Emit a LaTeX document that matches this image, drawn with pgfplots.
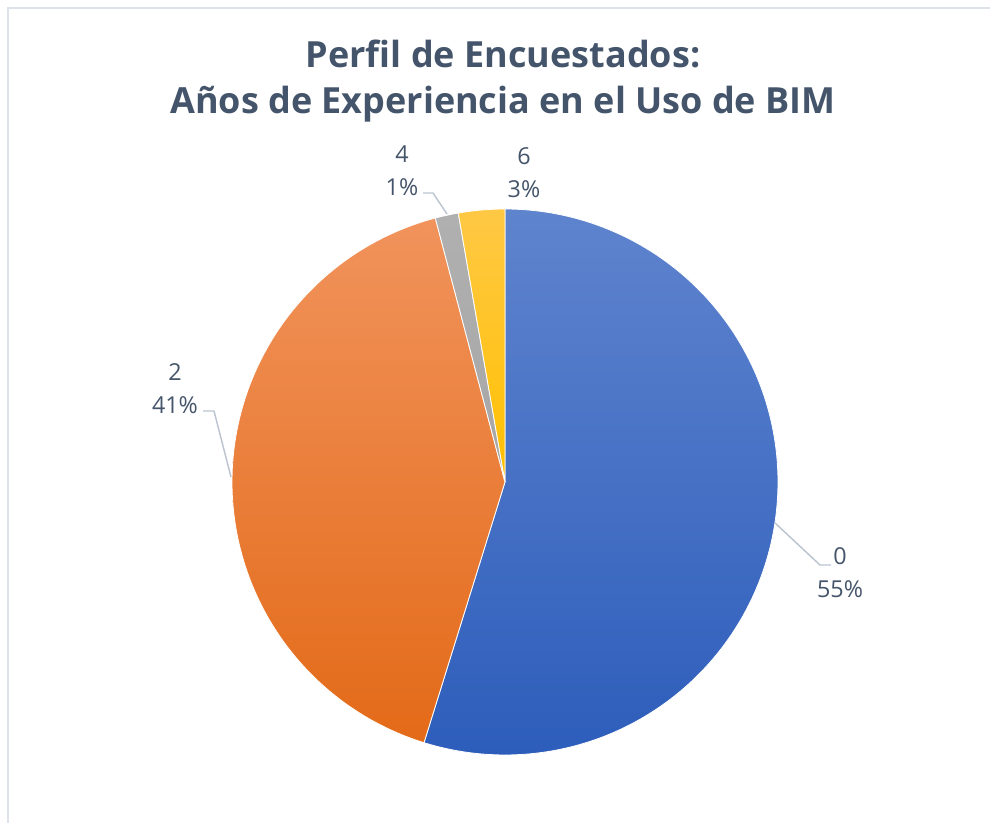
\documentclass[border=0pt]{standalone}
\usepackage{pgfplots}
\usepackage{pgfplotstable}
\pgfplotsset{compat=1.18}
\usepackage{fontspec}
\setmainfont{Open Sans}
\definecolor{titlec}{HTML}{44546A}
\definecolor{labc}{HTML}{44546A}
\definecolor{leadc}{HTML}{BCC4CF}
\definecolor{framec}{HTML}{DDE3E9}
\definecolor{blueT}{HTML}{5F84CE}
\definecolor{blueB}{HTML}{2D5DBB}
\definecolor{orangeT}{HTML}{F1935C}
\definecolor{orangeB}{HTML}{E36A18}
\definecolor{grayT}{HTML}{B0B0B0}
\definecolor{grayB}{HTML}{A6A6A6}
\definecolor{yellowT}{HTML}{FFC845}
\definecolor{yellowB}{HTML}{FFC000}
\pgfplotstableread{
cat val
0 40
2 30
4 1
6 2
}\piedata
\begin{document}%
\begin{tikzpicture}
\pgfplotstablegetelem{0}{val}\of\piedata \let\va\pgfplotsretval
\pgfplotstablegetelem{1}{val}\of\piedata \let\vb\pgfplotsretval
\pgfplotstablegetelem{2}{val}\of\piedata \let\vc\pgfplotsretval
\pgfplotstablegetelem{3}{val}\of\piedata \let\vd\pgfplotsretval
\pgfmathsetmacro\tot{\va+\vb+\vc+\vd}
\pgfmathsetmacro\aA{90}
\pgfmathsetmacro\aB{\aA-360*\va/\tot}
\pgfmathsetmacro\aC{\aB-360*\vb/\tot}
\pgfmathsetmacro\aD{\aC-360*\vc/\tot}
\pgfmathsetmacro\aE{\aD-360*\vd/\tot}
\begin{axis}[
  hide axis, scale only axis,
  width=742.5pt, height=617.25pt,
  xmin=0, xmax=990, ymin=0, ymax=823,
  clip=false,
]
\coordinate (bl) at (axis cs:0,0);
\coordinate (tr) at (axis cs:990,823);
% frame
\draw[framec, line width=1.5pt] (axis cs:8,0) -- (axis cs:8,815) -- (axis cs:990,815);
% slices
\addplot[draw=white, line width=0.6pt, top color=blueT, bottom color=blueB, domain=\aB:\aA, samples=160, variable=\t]
  ({505+273*cos(\t)}, {341+273*sin(\t)}) -- (axis cs:505,341) -- cycle;
\addplot[draw=white, line width=0.6pt, top color=orangeT, bottom color=orangeB, domain=\aC:\aB, samples=140, variable=\t]
  ({505+273*cos(\t)}, {341+273*sin(\t)}) -- (axis cs:505,341) -- cycle;
\addplot[draw=white, line width=0.6pt, top color=grayT, bottom color=grayB, domain=\aD:\aC, samples=10, variable=\t]
  ({505+273*cos(\t)}, {341+273*sin(\t)}) -- (axis cs:505,341) -- cycle;
\addplot[draw=white, line width=0.6pt, top color=yellowT, bottom color=yellowB, domain=\aE:\aD, samples=12, variable=\t]
  ({505+273*cos(\t)}, {341+273*sin(\t)}) -- (axis cs:505,341) -- cycle;
% title
\node[text=titlec, font=\fontsize{27}{34.5}\selectfont\bfseries, align=center] at (axis cs:503,742)
  {Perfil de Encuestados:\\Años de Experiencia en el Uso de BIM};
% leader lines
\draw[leadc, line width=1.1pt] (axis cs:775,300) -- (axis cs:820,258) -- (axis cs:831,258);
\draw[leadc, line width=1.1pt] (axis cs:203,412) -- (axis cs:214,412) -- (axis cs:231,346);
\draw[leadc, line width=1.1pt] (axis cs:423,630) -- (axis cs:433,630) -- (axis cs:447,609);
% labels
\node[text=labc, font=\fontsize{17.5}{24.75}\selectfont, align=center] at (axis cs:840,250) {0\\55\%};
\node[text=labc, font=\fontsize{17.5}{24.75}\selectfont, align=center] at (axis cs:175,434.5) {2\\41\%};
\node[text=labc, font=\fontsize{17.5}{24.75}\selectfont, align=center] at (axis cs:402,652.5) {4\\1\%};
\node[text=labc, font=\fontsize{17.5}{24.75}\selectfont, align=center] at (axis cs:524,650) {6\\3\%};
\end{axis}
\pgfresetboundingbox
\path[use as bounding box] (bl) rectangle (tr);
\end{tikzpicture}%
\end{document}
